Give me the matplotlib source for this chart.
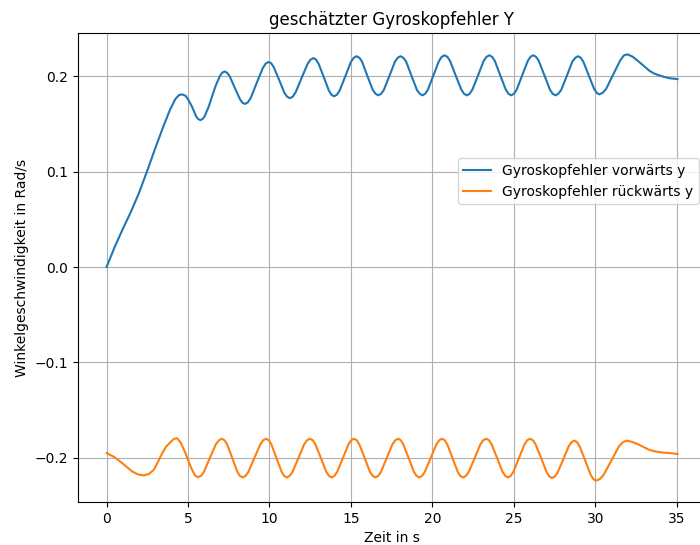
import numpy as np
import matplotlib
matplotlib.use("Agg")
import matplotlib.pyplot as plt

# values (time in s, rate in rad/s)
t_vor = [0.0, 0.5, 1.0, 1.5, 2.0, 2.5, 3.0, 3.5, 3.9, 4.22, 4.45, 4.65, 4.85, 5.0, 5.25, 5.5, 5.62, 5.76,
         5.9, 6.02, 6.27, 6.5, 6.7, 6.95, 7.1, 7.25, 7.4, 7.56, 7.87, 8.19, 8.34, 8.5,
         8.68, 8.86, 9.22, 9.59, 9.77, 9.95, 10.11, 10.27, 10.6, 10.92, 11.09, 11.25,
         11.43, 11.61, 11.97, 12.34, 12.52, 12.7, 12.86, 13.02, 13.34, 13.65, 13.81, 13.97,
         14.14, 14.31, 14.66, 15.0, 15.18, 15.35, 15.52, 15.68, 16.01, 16.35, 16.52, 16.68,
         16.85, 17.02, 17.37, 17.71, 17.88, 18.05, 18.22, 18.39, 18.72, 19.06, 19.23, 19.39,
         19.56, 19.73, 20.07, 20.41, 20.58, 20.75, 20.92, 21.09, 21.43, 21.78, 21.95, 22.12,
         22.29, 22.46, 22.81, 23.15, 23.33, 23.5, 23.67, 23.84, 24.17, 24.51, 24.68, 24.84,
         25.01, 25.18, 25.52, 25.86, 26.03, 26.2, 26.37, 26.54, 26.88, 27.22, 27.39, 27.56,
         27.73, 27.91, 28.26, 28.6, 28.78, 28.95, 29.11, 29.28, 29.6, 29.93, 30.09, 30.25,
         30.46, 30.68, 31.11, 31.55, 31.76, 31.98, 32.3, 32.7, 33.0, 33.31, 33.6, 33.92,
         34.2, 34.54, 35.05]
w_vor = [0.0, 0.021, 0.040, 0.058, 0.078, 0.101, 0.125, 0.148, 0.165, 0.176, 0.1803, 0.181, 0.1795, 0.176, 0.168, 0.158, 0.1552, 0.154,
         0.1552, 0.158, 0.168, 0.180, 0.190, 0.200, 0.2037, 0.205, 0.2037, 0.200, 0.188, 0.176, 0.1723, 0.171,
         0.1727, 0.1775, 0.193, 0.2085, 0.2133, 0.215, 0.2136, 0.2094, 0.196, 0.1826, 0.1785, 0.177,
         0.1786, 0.1832, 0.198, 0.2128, 0.2174, 0.219, 0.2175, 0.213, 0.199, 0.185, 0.1805, 0.179,
         0.1806, 0.185, 0.200, 0.215, 0.2194, 0.221, 0.2194, 0.2155, 0.2005, 0.1855, 0.1816, 0.180,
         0.1816, 0.1855, 0.2005, 0.2155, 0.2194, 0.221, 0.2194, 0.2155, 0.2005, 0.1855, 0.1816, 0.180,
         0.1816, 0.186, 0.201, 0.216, 0.2204, 0.222, 0.2204, 0.216, 0.201, 0.186, 0.1816, 0.180,
         0.1816, 0.186, 0.201, 0.216, 0.2204, 0.222, 0.2204, 0.216, 0.201, 0.186, 0.1816, 0.180,
         0.1816, 0.186, 0.201, 0.216, 0.2204, 0.222, 0.2204, 0.216, 0.201, 0.186, 0.1816, 0.180,
         0.1816, 0.1855, 0.2005, 0.2155, 0.2194, 0.221, 0.2194, 0.215, 0.201, 0.187, 0.1826, 0.181,
         0.1826, 0.187, 0.202, 0.217, 0.2218, 0.223, 0.2205, 0.215, 0.2105, 0.206, 0.203, 0.201,
         0.1995, 0.198, 0.197]

t_rueck = [0.0, 0.5, 0.96, 1.57, 1.95, 2.28, 2.6, 2.9, 3.15, 3.41, 3.65, 3.92, 4.13, 4.33, 4.55, 4.84, 5.05, 5.25, 5.43, 5.61,
           5.8, 5.98, 6.34, 6.71, 6.9, 7.08, 7.24, 7.4, 7.72, 8.03, 8.19, 8.35,
           8.53, 8.71, 9.07, 9.44, 9.62, 9.8, 9.96, 10.12, 10.43, 10.75, 10.9, 11.06,
           11.24, 11.42, 11.78, 12.13, 12.31, 12.49, 12.66, 12.82, 13.16, 13.49, 13.66, 13.82,
           13.99, 14.16, 14.51, 14.85, 15.02, 15.19, 15.36, 15.52, 15.85, 16.17, 16.34, 16.5,
           16.68, 16.85, 17.2, 17.55, 17.73, 17.9, 18.06, 18.22, 18.55, 18.87, 19.03, 19.19,
           19.37, 19.54, 19.9, 20.25, 20.43, 20.6, 20.76, 20.92, 21.24, 21.56, 21.72, 21.88,
           22.06, 22.24, 22.6, 22.95, 23.13, 23.31, 23.48, 23.64, 23.98, 24.31, 24.48, 24.64,
           24.81, 24.98, 25.32, 25.66, 25.83, 26.0, 26.17, 26.34, 26.68, 27.01, 27.18, 27.35,
           27.52, 27.69, 28.04, 28.38, 28.55, 28.72, 28.88, 29.05, 29.39, 29.72, 29.89, 30.05,
           30.28, 30.52, 30.99, 31.45, 31.7, 31.95, 32.3, 32.7, 33.0, 33.31, 33.6, 33.92,
           34.2, 34.54, 35.05]
w_rueck = [-0.195, -0.1995, -0.2056, -0.2143, -0.2175, -0.2185, -0.217, -0.2126, -0.2045, -0.1955, -0.1885, -0.1836, -0.1803, -0.1794, -0.184, -0.195, -0.2045, -0.2126, -0.2185, -0.2202,
           -0.219, -0.2147, -0.2003, -0.1859, -0.1816, -0.180, -0.1816, -0.1859, -0.2003, -0.2147, -0.219, -0.2206,
           -0.219, -0.2147, -0.2003, -0.1859, -0.1816, -0.180, -0.1816, -0.1859, -0.2003, -0.2147, -0.219, -0.2206,
           -0.219, -0.2147, -0.2003, -0.1859, -0.1816, -0.180, -0.1816, -0.1859, -0.2003, -0.2147, -0.219, -0.2206,
           -0.219, -0.2147, -0.2003, -0.1859, -0.1816, -0.180, -0.1816, -0.1859, -0.2003, -0.2147, -0.219, -0.2206,
           -0.219, -0.2147, -0.2003, -0.1859, -0.1816, -0.180, -0.1816, -0.1859, -0.2003, -0.2147, -0.219, -0.2206,
           -0.219, -0.2147, -0.2003, -0.1859, -0.1816, -0.180, -0.1816, -0.1859, -0.2003, -0.2147, -0.219, -0.2206,
           -0.219, -0.2147, -0.2003, -0.1859, -0.1816, -0.180, -0.1816, -0.1859, -0.2003, -0.2147, -0.219, -0.2206,
           -0.219, -0.2147, -0.2003, -0.1859, -0.1816, -0.180, -0.1816, -0.1859, -0.2003, -0.2147, -0.2196, -0.2212,
           -0.2196, -0.2155, -0.2016, -0.1877, -0.1835, -0.182, -0.1835, -0.1882, -0.203, -0.2178, -0.2224, -0.224,
           -0.2224, -0.2178, -0.203, -0.1882, -0.1836, -0.182, -0.1835, -0.1864, -0.189, -0.1916, -0.193, -0.194,
           -0.1946, -0.195, -0.196]

fig = plt.figure(figsize=(7, 5.45), dpi=100)
# axes runs a little past the right edge, like the cropped original
ax = fig.add_axes([78/700, 43/545, 628/700, 469/545])

ax.plot(t_vor, w_vor, label="Gyroskopfehler vorwärts y")
ax.plot(t_rueck, w_rueck, label="Gyroskopfehler rückwärts y")

ax.set_title("geschätzter Gyroskopfehler Y")
ax.set_xlabel("Zeit in s")
ax.set_ylabel("Winkelgeschwindigkeit in Rad/s")
ax.grid(True)
ax.legend(loc="center right", bbox_to_anchor=(1.0, 0.684))

fig.savefig("out.png", dpi=100)
